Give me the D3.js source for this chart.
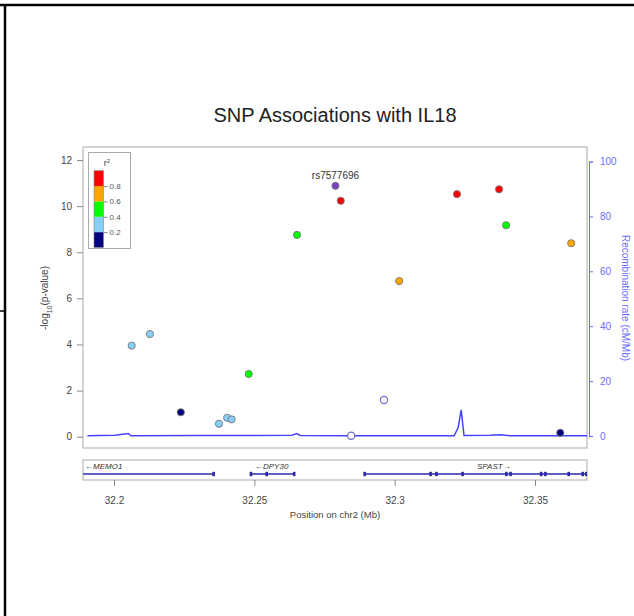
<!DOCTYPE html>
<html>
<head>
<meta charset="utf-8">
<script src="https://cdn.jsdelivr.net/npm/d3@7"></script>
<style>
  body { margin: 0; background: #fff; }
  text { font-family: "Liberation Sans", Arial, sans-serif; }
</style>
</head>
<body>
<div id="chart"></div>
<script>
// SNP data: position (Mb), -log10(p), r2 (null = missing, "lead" = index SNP)
var snpPos  = [32.2063, 32.2128, 32.2238, 32.2374, 32.2403, 32.2419, 32.2480, 32.2652, 32.2789, 32.2808, 32.2845, 32.2962, 32.3016, 32.3222, 32.3372, 32.3397, 32.3629, 32.3590];
var snpLogP = [3.95, 4.45, 1.06, 0.56, 0.82, 0.75, 2.72, 8.75, 10.88, 10.23, 0.04, 1.59, 6.75, 10.52, 10.73, 9.17, 8.39, 0.17];
var snpR2   = [0.3, 0.3, 0.1, 0.3, 0.3, 0.3, 0.5, 0.5, "lead", 0.9, null, null, 0.7, 0.9, 0.9, 0.5, 0.7, 0.1];
var leadName = "rs7577696";

// recombination rate (cM/Mb)
var recPos  = [32.1905, 32.1950, 32.2004, 32.2051, 32.2061, 32.2306, 32.2485, 32.2634, 32.2651, 32.2663, 32.2841, 32.3019, 32.3212, 32.3226, 32.3237, 32.3247, 32.3340, 32.3376, 32.3411, 32.3686];
var recRate = [0.1, 0.2, 0.3, 0.9, 0.1, 0.15, 0.2, 0.3, 0.9, 0.2, 0.1, 0.1, 0.1, 3.0, 9.5, 0.2, 0.3, 0.45, 0.1, 0.1];

// genes
var geneNames  = ["MEMO1", "DPY30", "SPAST"];
var geneStart  = [32.1890, 32.2488, 32.2893];
var geneEnd    = [32.2355, 32.2642, 32.3690];
var geneStrand = ["-", "-", "+"];
var geneExons  = [
  [32.2355],
  [32.2488, 32.2544, 32.2642],
  [32.2893, 32.3128, 32.3149, 32.3242, 32.3398, 32.3413, 32.3522, 32.3537, 32.3620, 32.3670, 32.3683]
];

var r2Breaks = [0.2, 0.4, 0.6, 0.8];
var r2Colors = ["#000080", "#87cefa", "#00ff00", "#ffa500", "#ff0000"];
var leftTicks = [0, 2, 4, 6, 8, 10, 12];
var rightTicks = [0, 20, 40, 60, 80, 100];
var xTicks = [32.2, 32.25, 32.3, 32.35];

var W = 634, H = 616;
var box = { left: 83, right: 587, top: 147, bottom: 448 };

var svg = d3.select("#chart").append("svg")
  .attr("width", W).attr("height", H);

// outer frame lines
svg.append("line").attr("x1", 0).attr("x2", W).attr("y1", 5).attr("y2", 5)
  .attr("stroke", "#000").attr("stroke-width", 2.5);
svg.append("line").attr("x1", 5).attr("x2", 5).attr("y1", 4).attr("y2", H)
  .attr("stroke", "#000").attr("stroke-width", 2.5);
svg.append("line").attr("x1", 0).attr("x2", 5).attr("y1", 311).attr("y2", 311)
  .attr("stroke", "#000").attr("stroke-width", 1.5);

// scales
var x = d3.scaleLinear().domain([32.2, 32.35]).range([114, 535]);
var y = d3.scaleLinear().domain([0, 12]).range([436.7, 160]);
var yr = d3.scaleLinear().domain([0, 100]).range([436, 161.5]);
var color = d3.scaleThreshold().domain(r2Breaks).range(r2Colors);

// title
svg.append("text")
  .attr("x", 335).attr("y", 122)
  .attr("text-anchor", "middle")
  .style("font-size", "20px")
  .style("fill", "#222")
  .text("SNP Associations with IL18");

// plot box
svg.append("rect")
  .attr("x", box.left).attr("y", box.top)
  .attr("width", box.right - box.left).attr("height", box.bottom - box.top)
  .attr("fill", "none").attr("stroke", "#aaa").attr("stroke-width", 1);

// left axis
var gl = svg.append("g")
  .attr("transform", "translate(" + box.left + ",0)")
  .call(d3.axisLeft(y).tickValues(leftTicks).tickSize(6).tickPadding(5));
gl.select(".domain").remove();
gl.selectAll("line").attr("stroke", "#888");
gl.selectAll("text").style("font-size", "10px").style("fill", "#444")
  .style("font-family", "Liberation Sans, Arial, sans-serif");

// y label
var yl = svg.append("text")
  .attr("transform", "translate(48,298) rotate(-90)")
  .attr("text-anchor", "middle")
  .style("font-size", "10px")
  .style("fill", "#444");
yl.append("tspan").text("-log");
yl.append("tspan").attr("baseline-shift", "sub").style("font-size", "7px").text("10");
yl.append("tspan").text("(p-value)");

// right axis
var rc = "#6b6bff";
var gr = svg.append("g")
  .attr("transform", "translate(589,0)")
  .call(d3.axisRight(yr).tickValues(rightTicks).tickSize(4).tickPadding(7));
gr.select(".domain").attr("stroke", rc);
gr.selectAll("line").attr("stroke", rc);
gr.selectAll("text").style("font-size", "10px").style("fill", rc)
  .style("font-family", "Liberation Sans, Arial, sans-serif");

svg.append("text")
  .attr("transform", "translate(622,298) rotate(90)")
  .attr("text-anchor", "middle")
  .style("font-size", "10px")
  .style("fill", rc)
  .text("Recombination rate (cM/Mb)");

// recombination line
var recData = recPos.map(function (p, i) { return { p: p, r: recRate[i] }; });
svg.append("path")
  .datum(recData)
  .attr("fill", "none")
  .attr("stroke", "#4444ff")
  .attr("stroke-width", 1.5)
  .attr("d", d3.line().x(function (d) { return x(d.p); }).y(function (d) { return yr(d.r); }));

// points
var snps = snpPos.map(function (p, i) { return { p: p, v: snpLogP[i], r2: snpR2[i] }; });
svg.append("g").selectAll("circle")
  .data(snps)
  .enter()
  .append("circle")
  .attr("cx", function (d) { return x(d.p); })
  .attr("cy", function (d) { return y(d.v); })
  .attr("r", 3.6)
  .attr("fill", function (d) {
    if (d.r2 === null) return "#fff";
    if (d.r2 === "lead") return "#7b3fc4";
    return color(d.r2);
  })
  .attr("stroke", function (d) { return d.r2 === null ? "#6a6acd" : "#777"; })
  .attr("stroke-width", function (d) { return d.r2 === null ? 1.2 : 0.9; });

// lead SNP label
var lead = snps[snpR2.indexOf("lead")];
svg.append("text")
  .attr("x", x(lead.p)).attr("y", y(lead.v) - 7)
  .attr("text-anchor", "middle")
  .style("font-size", "10px")
  .style("fill", "#333")
  .text(leadName);

// legend
var lg = svg.append("g");
lg.append("rect")
  .attr("x", 88.5).attr("y", 152.5).attr("width", 42).attr("height", 96)
  .attr("fill", "#fff").attr("stroke", "#aaa");
var lt = lg.append("text").attr("x", 107).attr("y", 166)
  .attr("text-anchor", "middle").style("font-size", "9px").style("fill", "#444");
lt.append("tspan").text("r");
lt.append("tspan").attr("baseline-shift", "super").style("font-size", "6px").text("2");
var ly = d3.scaleLinear().domain([1, 0]).range([170.7, 247.5]);
var legBins = r2Colors.map(function (c, i) { return { c: c, lo: i / 5, hi: (i + 1) / 5 }; });
lg.selectAll("rect.bin")
  .data(legBins)
  .enter()
  .append("rect")
  .attr("class", "bin")
  .attr("x", 94).attr("width", 9.5)
  .attr("y", function (d) { return ly(d.hi); })
  .attr("height", function (d) { return ly(d.lo) - ly(d.hi); })
  .attr("fill", function (d) { return d.c; });
lg.append("rect").attr("x", 94).attr("y", ly(1)).attr("width", 9.5)
  .attr("height", ly(0) - ly(1)).attr("fill", "none").attr("stroke", "#888").attr("stroke-width", 0.6);
var lga = lg.append("g").attr("transform", "translate(103.5,0)")
  .call(d3.axisRight(ly).tickValues(r2Breaks).tickSize(4).tickPadding(2));
lga.select(".domain").remove();
lga.selectAll("line").attr("stroke", "#888");
lga.selectAll("text").style("font-size", "8px").style("fill", "#555")
  .style("font-family", "Liberation Sans, Arial, sans-serif");

// gene panel
var gp = { top: 460, bottom: 480 };
svg.append("rect")
  .attr("x", box.left).attr("y", gp.top)
  .attr("width", box.right - box.left).attr("height", gp.bottom - gp.top)
  .attr("fill", "none").attr("stroke", "#aaa");

var clipId = "geneclip";
svg.append("clipPath").attr("id", clipId).append("rect")
  .attr("x", box.left).attr("y", gp.top).attr("width", box.right - box.left).attr("height", gp.bottom - gp.top);
var gg = svg.append("g").attr("clip-path", "url(#" + clipId + ")");
var geneColor = "#2b2ba8";
var genes = geneNames.map(function (n, i) {
  return { name: n, s: geneStart[i], e: geneEnd[i], strand: geneStrand[i], exons: geneExons[i] };
});
genes.forEach(function (g) {
  gg.append("line")
    .attr("x1", x(g.s)).attr("x2", x(g.e)).attr("y1", 474).attr("y2", 474)
    .attr("stroke", geneColor).attr("stroke-width", 1.3);
  gg.selectAll(null)
    .data(g.exons)
    .enter()
    .append("rect")
    .attr("x", function (d) { return x(d) - 1.3; })
    .attr("y", 471.8).attr("width", 2.6).attr("height", 4.4)
    .attr("fill", geneColor);
});
// gene labels
var labelX = { MEMO1: 85, DPY30: 255, SPAST: 477 };
genes.forEach(function (g) {
  var t = svg.append("text")
    .attr("x", labelX[g.name]).attr("y", 469)
    .style("font-size", "8px").style("font-style", "italic").style("fill", "#333");
  t.text(g.strand === "-" ? "\u2190" + g.name : g.name + "\u2192");
});

// x axis
var gx = svg.append("g")
  .attr("transform", "translate(0," + gp.bottom + ")")
  .call(d3.axisBottom(x).tickValues(xTicks).tickFormat(d3.format("")).tickSize(6).tickPadding(11));
gx.select(".domain").remove();
gx.selectAll("line").attr("stroke", "#888");
gx.selectAll("text").style("font-size", "10px").style("fill", "#444")
  .style("font-family", "Liberation Sans, Arial, sans-serif");

svg.append("text")
  .attr("x", 335).attr("y", 518)
  .attr("text-anchor", "middle")
  .style("font-size", "9.5px")
  .style("fill", "#444")
  .text("Position on chr2 (Mb)");
</script>
</body>
</html>
